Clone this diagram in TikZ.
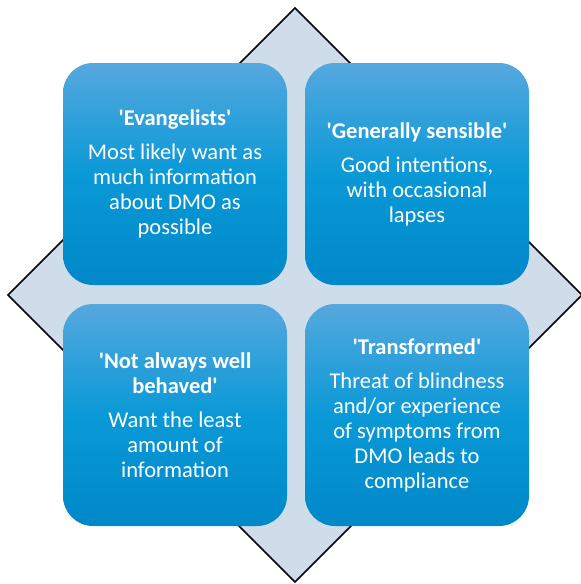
\documentclass[tikz,border=0pt]{standalone}
\usepackage{fontspec}
\setmainfont{Carlito}
\newcommand{\sq}{\textquotesingle}
\definecolor{diafill}{HTML}{CFDDEB}
\definecolor{boxtop}{HTML}{56A8DE}
\definecolor{boxmid}{HTML}{0A99D7}
\definecolor{boxbot}{HTML}{0088C9}
\begin{document}
\begin{tikzpicture}[x=1pt,y=-1pt,
  quad/.style={rounded corners=30pt, minimum width=224pt, minimum height=222pt,
    top color=boxtop, bottom color=boxbot, middle color=boxmid, draw=none,
    text=white, align=center, inner sep=0pt,
    font=\fontsize{22.5}{25}\selectfont},
  diam/.style={draw=black, line width=1.6pt, fill=diafill, line join=miter}]
\useasboundingbox (0,0) rectangle (581,584);
\coordinate (dt) at (295,8);
\coordinate (dl) at (8,295);
\coordinate (db) at (295,582);
\coordinate (dr) at (582,295);
\draw[diam] (dt) -- (dr) -- (db) -- (dl) -- cycle;
\node[quad] (tl) at (175,174) {\textbf{\sq Evangelists\sq}\\[9pt]Most likely want as\\much information\\about DMO as\\possible};
\node[quad] (tr) at (417,174) {\textbf{\sq Generally sensible\sq}\\[9pt]Good intentions,\\with occasional\\lapses};
\node[quad] (bl) at (175,415) {\textbf{\sq Not always well}\\\textbf{behaved\sq}\\[9pt]Want the least\\amount of\\information};
\node[quad] (br) at (417,415) {\textbf{\sq Transformed\sq}\\[9pt]Threat of blindness\\and/or experience\\of symptoms from\\DMO leads to\\compliance};
\end{tikzpicture}
\end{document}
